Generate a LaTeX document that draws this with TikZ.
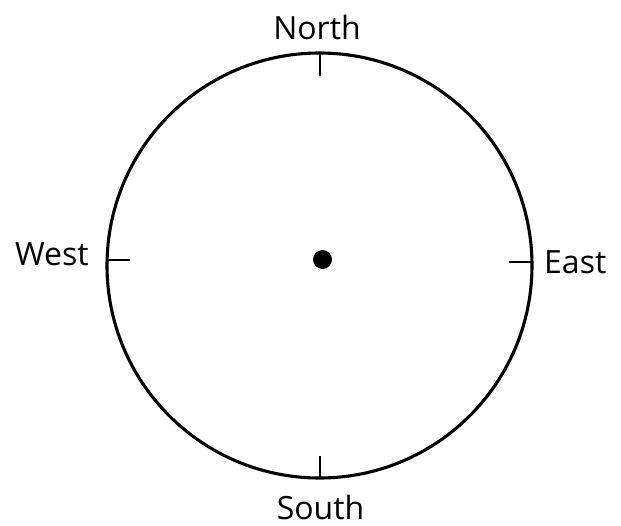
\documentclass[tikz,border=0pt]{standalone}
\usepackage{fontspec}
\setmainfont{Open Sans}
\begin{document}
\begin{tikzpicture}[x=1pt,y=-1pt,
  ring/.style={draw=black,line width=3.1pt},
  tick/.style={draw=black,line width=2.8pt},
  lbl/.style={inner sep=0pt,font=\fontsize{32}{38}\selectfont}]
\useasboundingbox (0,0) rectangle (621,525);
\coordinate (c) at (319.5,265.5);
\draw[ring] (c) ellipse [x radius=212.5, y radius=212.5];
\coordinate (n1) at (320,53); \coordinate (n2) at (320,76);
\coordinate (s1) at (320,478); \coordinate (s2) at (320,456);
\coordinate (w1) at (107,260); \coordinate (w2) at (130,260);
\coordinate (e1) at (532,262); \coordinate (e2) at (509,262);
\draw[tick] (n1) -- (n2);
\draw[tick] (s1) -- (s2);
\draw[tick] (w1) -- (w2);
\draw[tick] (e1) -- (e2);
\fill[black] (322.5,259.5) circle (9.5);
\node[lbl,anchor=base] (north) at (317,39.5) {North};
\node[lbl,anchor=base] (south) at (320.5,519.5) {South};
\node[lbl,anchor=base west] (west) at (15,265) {West};
\node[lbl,anchor=base west] (east) at (544,273) {East};
\end{tikzpicture}
\end{document}
